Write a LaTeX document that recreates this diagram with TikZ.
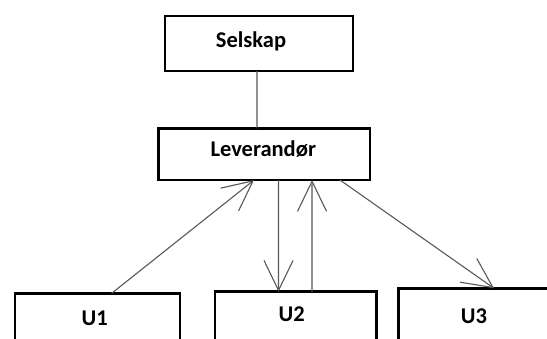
\documentclass[tikz,border=0pt]{standalone}
\usepackage{fontspec}
\setmainfont{Carlito}
\usetikzlibrary{arrows.meta}
\begin{document}
\begin{tikzpicture}[x=1pt,y=-1pt,
  box/.style={draw=black,line width=2.7pt,rectangle,inner sep=0pt,outer sep=0pt,fill=white},
  lbl/.style={font=\fontsize{22.5}{26}\selectfont\bfseries,inner sep=0pt,anchor=base},
  conn/.style={draw=black!65,line width=1.1pt},
  arr/.style={conn,-{Straight Barb[length=30pt,width=29pt,line width=1.1pt]}}]
\useasboundingbox (0,0) rectangle (547,338);
\clip (0,0) rectangle (547,338);
\fill[white] (0,0) rectangle (547,338);
\node[box,minimum width=188pt,minimum height=55pt] (sel) at (259,43.5) {};
\node[box,minimum width=211.7pt,minimum height=51.7pt] (lev) at (264.2,154.2) {};
\node[box,minimum width=165pt,minimum height=66.7pt] (u1) at (97.5,326.7) {};
\node[box,minimum width=161.7pt,minimum height=68.3pt] (u2) at (295.85,325.85) {};
\node[box,minimum width=161.7pt,minimum height=71.7pt] (u3) at (479.15,324.15) {};
\node[lbl] (tsel) at (251,47) {Selskap};
\node[lbl] (tlev) at (263.3,156.7) {Leverandør};
\node[lbl] (tu1) at (94.7,325) {U1};
\node[lbl] (tu2) at (291.7,321.7) {U2};
\node[lbl] (tu3) at (474,323) {U3};
\draw[conn] ([xshift=92pt]sel.south west) -- ([xshift=98.7pt]lev.north west);
\draw[arr] ([xshift=96.6pt]u1.north west) -- ([xshift=95.7pt]lev.south west);
\draw[arr] ([xshift=120.2pt]lev.south west) -- ([xshift=63.5pt]u2.north west);
\draw[arr] ([xshift=97pt]u2.north west) -- ([xshift=153.7pt]lev.south west);
\draw[arr] ([xshift=181.7pt]lev.south west) -- ([xshift=95.7pt]u3.north west);
\end{tikzpicture}
\end{document}
